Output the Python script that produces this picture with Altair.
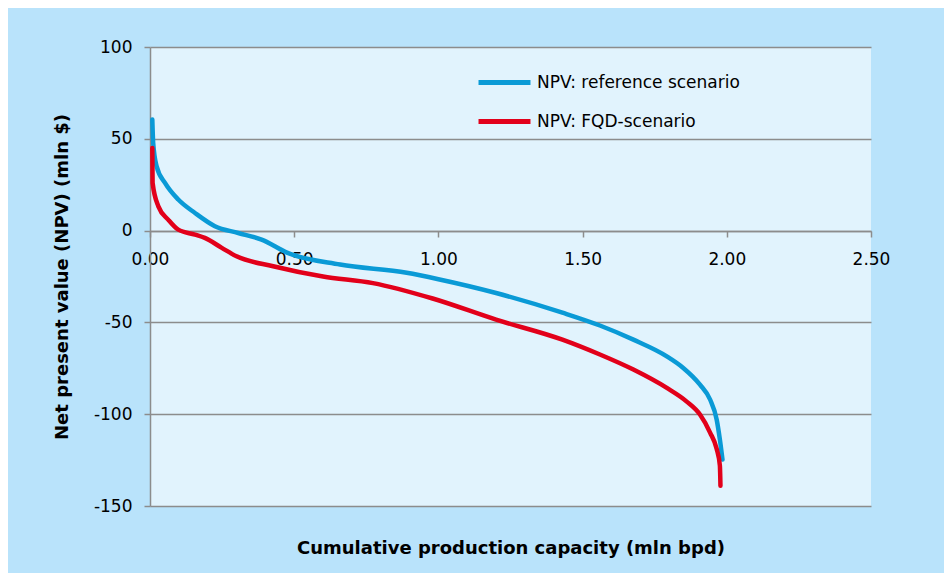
import altair as alt
import pandas as pd

ref_x = [0.008, 0.011, 0.023, 0.052, 0.098, 0.156, 0.225, 0.306, 0.387, 0.475, 0.659, 0.89, 1.00,
         1.20, 1.43, 1.56, 1.676, 1.792, 1.849, 1.907, 1.942, 1.965, 1.976, 1.985]
ref_y = [60.5, 47.8, 35, 26, 16.9, 9.6, 2.4, -1.3, -4.9, -12, -18.5, -23, -26.5,
         -34, -44.7, -51.7, -59.4, -68.5, -74.8, -83.9, -92, -103, -113.8, -124.7]

fqd_x = [0.008, 0.009, 0.029, 0.063, 0.098, 0.156, 0.19, 0.249, 0.30, 0.427, 0.60, 0.773, 0.98,
         1.20, 1.43, 1.56, 1.676, 1.792, 1.86, 1.907, 1.942, 1.965, 1.976, 1.978]
fqd_y = [45, 26, 13.2, 6, 0.5, -2.2, -4, -9.4, -14, -19.4, -25, -28.6, -37,
         -48.5, -59.4, -67.5, -75.7, -85.7, -93, -100.2, -110, -119, -128, -139]

series = ["NPV: reference scenario", "NPV: FQD-scenario"]
colors = ["#0a9ad6", "#e2001a"]

rows = []
for i, (x, y) in enumerate(zip(ref_x, ref_y)):
    rows.append({"series": series[0], "x": x, "y": y, "o": i})
for i, (x, y) in enumerate(zip(fqd_x, fqd_y)):
    rows.append({"series": series[1], "x": x, "y": y, "o": i})
df = pd.DataFrame(rows)

FONT = "DejaVu Sans"
GRID = "#8c8c8c"

chart = alt.Chart(df).mark_line(strokeWidth=4.5, interpolate="monotone", strokeCap="round").encode(
    x=alt.X("x:Q",
            scale=alt.Scale(domain=[0, 2.5], nice=False, zero=False),
            axis=alt.Axis(values=[0, 0.5, 1.0, 1.5, 2.0, 2.5], format=".2f", offset=-275,
                          grid=False, domainColor=GRID, domainWidth=1.5,
                          tickColor=GRID, tickWidth=1.5, tickSize=6, labelFlush=False,
                          labelFont=FONT, labelFontSize=17, labelColor="#000000", labelPadding=14,
                          title="Cumulative production capacity (mln bpd)",
                          titleFont=FONT, titleFontSize=18, titleFontWeight="bold", titleColor="#000000",
                          titleY=317, titleBaseline="middle")),
    y=alt.Y("y:Q",
            scale=alt.Scale(domain=[-150, 100], nice=False, zero=False),
            axis=alt.Axis(values=[-150, -100, -50, 0, 50, 100], grid=True, gridColor=GRID,
                          gridWidth=1.5, domainColor=GRID, domainWidth=1.5,
                          tickColor=GRID, tickWidth=1.5, tickSize=6,
                          labelExpr="replace(datum.label, '\u2212', '-')",
                          labelFont=FONT, labelFontSize=17, labelColor="#000000", labelPadding=12,
                          title="Net present value (NPV) (mln $)",
                          titleFont=FONT, titleFontSize=18, titleFontWeight="bold", titleColor="#000000",
                          titlePadding=22)),
    color=alt.Color("series:N",
                    scale=alt.Scale(domain=series, range=colors),
                    legend=alt.Legend(title=None, orient="none", legendX=326, legendY=7,
                                      symbolType="stroke", symbolSize=2700, symbolStrokeWidth=5,
                                      labelFont=FONT, labelFontSize=17, labelColor="#000000",
                                      labelLimit=0, rowPadding=0, labelOffset=4)),
    order="o:Q",
).properties(
    width=721,
    height=459,
    autosize=alt.AutoSizeParams(type="none"),
    padding={"left": 142, "top": 39, "right": 73, "bottom": 67},
    background="#b9e3fb",
).configure_view(
    fill="#e1f3fd",
    stroke=None,
)

chart.save("out.html", embed_options={"renderer": "svg", "actions": False})
